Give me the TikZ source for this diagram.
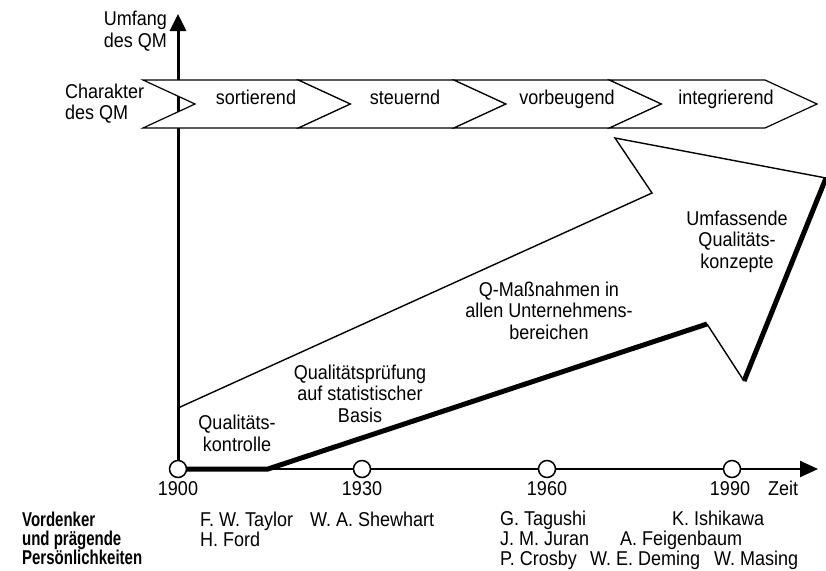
\documentclass[tikz,border=0pt]{standalone}
\usepackage{fontspec}
\setmainfont{Liberation Sans}
\usetikzlibrary{arrows.meta}
\begin{document}
\begin{tikzpicture}[x=1pt,y=-1pt,
  txt/.style={font=\fontsize{20}{21.5}\selectfont, xscale=0.9, inner sep=0pt},
  bld/.style={font=\fontsize{20}{19}\selectfont\bfseries, xscale=0.75, inner sep=0pt},
  chev/.style={draw, fill=white, line width=1.2pt, line join=miter},
  thinl/.style={line width=1.4pt},
  thickl/.style={line width=5pt},
  tick/.style={circle, draw, fill=white, line width=1.5pt, minimum size=17pt, inner sep=0pt},
]
\useasboundingbox (0,0) rectangle (826,570);

% axes
\coordinate (O) at (178,469);
\coordinate (Ytop) at (178,14);
\coordinate (Xend) at (818,469);
\draw[line width=3pt, -{Triangle[length=17pt,width=16pt]}] (O) -- (Ytop);
\draw[line width=2.5pt, -{Triangle[length=18pt,width=16pt]}] (O) -- (Xend);

% big arrow
\coordinate (p1) at (178,408);
\coordinate (p2) at (652,193);
\coordinate (p3) at (615,138);
\coordinate (p4) at (826,178);
\coordinate (p5) at (744,381);
\coordinate (p6) at (707,324);
\coordinate (p7) at (268,469);
\draw[thinl, line join=miter] (p1) -- (p2) -- (p3) -- (p4);
\draw[thinl] (p5) -- (p6);
\draw[thickl] (p4) -- (p5);
\draw[thickl, line join=miter] (p6) -- (p7) -- (O);

% chevrons
\foreach \xx in {143, 298.5, 454, 609.5}
  \draw[chev] (\xx,80) -- ++(155.5,0) -- ++(52,24) -- ++(-52,24) -- ++(-155.5,0) -- ++(52,-24) -- cycle;
\node[txt, anchor=base] (c1) at (256,104) {sortierend};
\node[txt, anchor=base] (c2) at (405,104) {steuernd};
\node[txt, anchor=base] (c3) at (567,104) {vorbeugend};
\node[txt, anchor=base] (c4) at (726,104) {integrierend};

% axis labels
\node[txt, anchor=base east, align=right, font=\fontsize{20}{22}\selectfont] (umfang) at (167,47) {Umfang\\des QM};
\node[txt, anchor=base west, align=left, font=\fontsize{20}{21}\selectfont] (charakter) at (65,119) {Charakter\\des QM};

% ticks
\node[tick] (t1900) at (178,469) {};
\node[tick] (t1930) at (362,469) {};
\node[tick] (t1960) at (547,469) {};
\node[tick] (t1990) at (732,469) {};
\node[txt, anchor=base] (y1900) at (178,495) {1900};
\node[txt, anchor=base] (y1930) at (362,495) {1930};
\node[txt, anchor=base] (y1960) at (547,495) {1960};
\node[txt, anchor=base] (y1990) at (730,495) {1990};
\node[txt, anchor=base] (zeit) at (783,495) {Zeit};

% phase labels
\node[txt, anchor=base, align=center] (qk) at (237,451) {Qualitäts-\\kontrolle};
\node[txt, anchor=base, align=center] (qp) at (360,422) {Qualitätsprüfung\\auf statistischer\\Basis};
\node[txt, anchor=base, align=center] (qm) at (549,339) {Q-Maßnahmen in\\allen Unternehmens-\\bereichen};
\node[txt, anchor=base, align=center] (uq) at (737,268) {Umfassende\\Qualitäts-\\konzepte};

% persons
\node[bld, anchor=base west, align=left] (vord) at (22,564) {Vordenker\\und prägende\\Persönlichkeiten};
\node[txt, anchor=base west] (taylor) at (200,526) {F. W. Taylor};
\node[txt, anchor=base west] (ford) at (200,546) {H. Ford};
\node[txt, anchor=base west] (shew) at (310,526) {W. A. Shewhart};
\node[txt, anchor=base west] (tag) at (500,525) {G. Tagushi};
\node[txt, anchor=base west] (ishi) at (672,525) {K. Ishikawa};
\node[txt, anchor=base west] (juran) at (500,545) {J. M. Juran};
\node[txt, anchor=base west] (feig) at (620,545) {A. Feigenbaum};
\node[txt, anchor=base west] (crosby) at (500,565) {P. Crosby};
\node[txt, anchor=base west] (deming) at (590,565) {W. E. Deming};
\node[txt, anchor=base west] (masing) at (714,565) {W. Masing};
\end{tikzpicture}
\end{document}
